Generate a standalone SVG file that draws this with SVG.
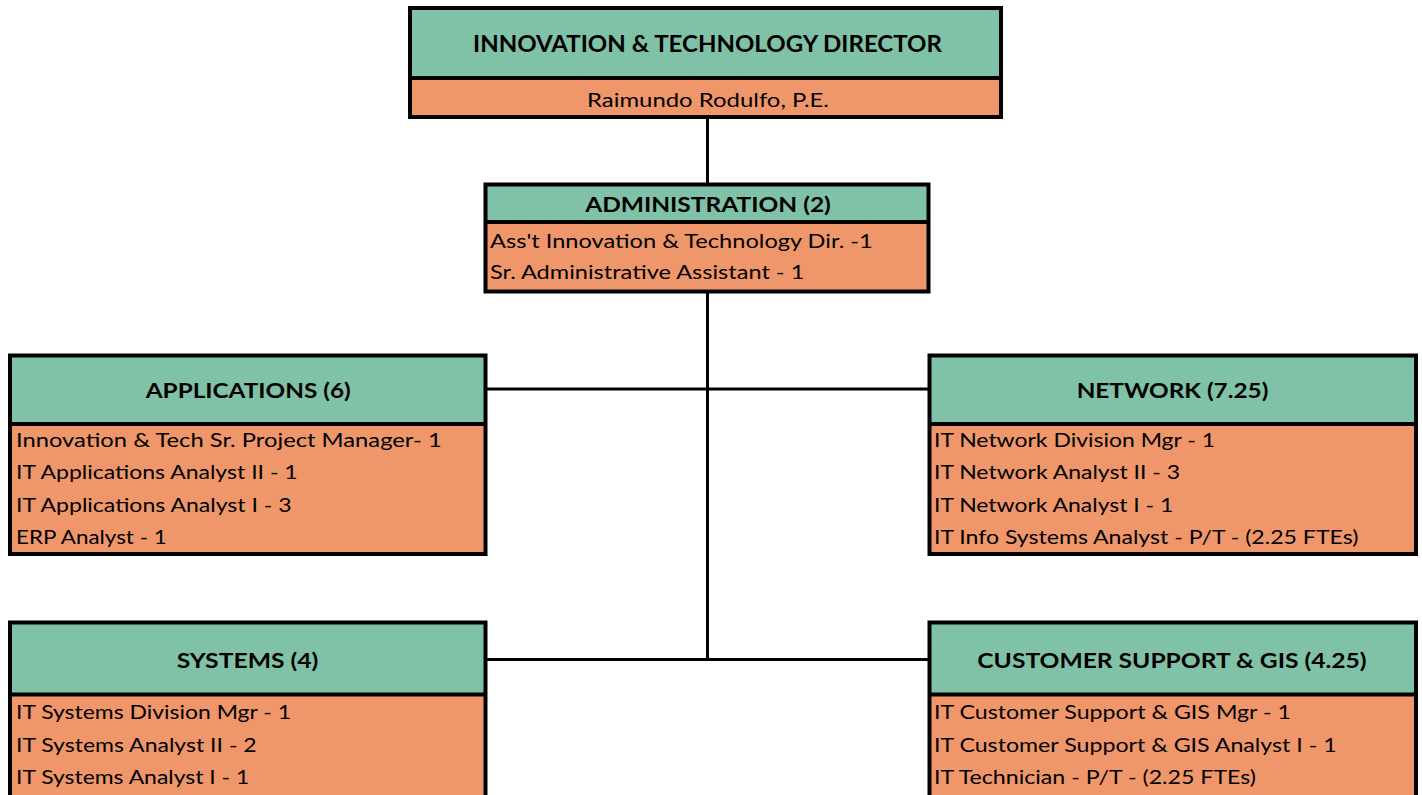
<svg xmlns="http://www.w3.org/2000/svg" width="1422" height="795" viewBox="0 0 1422 795">
<style>
.hd{fill:#80C2A7}
.bd{fill:#EF976A}
.fr{fill:none;stroke:#000;stroke-width:4}
.sep{stroke:#000;stroke-width:4}
.t{font-family:Lato,"Liberation Sans",sans-serif;font-weight:700;font-size:21px;fill:#000;text-anchor:middle}
.tt{font-size:23px}
.l{font-family:Lato,"Liberation Sans",sans-serif;font-size:19.5px;fill:#000}
.c{stroke:#000;stroke-width:3;fill:none}
</style>
<rect width="1422" height="795" fill="#fff"/>
<g id="connectors">
<line class="c" x1="707.5" y1="117" x2="707.5" y2="184.5"/>
<line class="c" x1="707.5" y1="291.5" x2="707.5" y2="659.5"/>
<line class="c" x1="485.5" y1="389" x2="929.5" y2="389"/>
<line class="c" x1="485.5" y1="659.5" x2="929.5" y2="659.5"/>
</g>
<g id="director">
<rect class="hd" x="410" y="8" width="591" height="70"/>
<rect class="bd" x="410" y="78" width="591" height="39"/>
<line class="sep" x1="410" y1="78" x2="1001" y2="78"/>
<rect class="fr" x="410" y="8" width="591" height="109"/>
<text class="t tt" x="707.5" y="51.5" textLength="469" lengthAdjust="spacingAndGlyphs">INNOVATION &amp; TECHNOLOGY DIRECTOR</text>
<text class="l" x="708" y="106.5" text-anchor="middle" textLength="242" lengthAdjust="spacingAndGlyphs">Raimundo Rodulfo, P.E.</text>
</g>
<g id="administration">
<rect class="hd" x="485.5" y="184.5" width="443" height="37.5"/>
<rect class="bd" x="485.5" y="222" width="443" height="69.5"/>
<line class="sep" x1="485.5" y1="222" x2="928.5" y2="222"/>
<rect class="fr" x="485.5" y="184.5" width="443" height="107"/>
<text class="t" x="708" y="211.5" textLength="245.7" lengthAdjust="spacingAndGlyphs">ADMINISTRATION (2)</text>
<text class="l" x="490" y="247.5" textLength="382.7" lengthAdjust="spacingAndGlyphs">Ass't Innovation &amp; Technology Dir. -1</text>
<text class="l" x="490" y="278.5" textLength="314.3" lengthAdjust="spacingAndGlyphs">Sr. Administrative Assistant - 1</text>
</g>
<g id="applications">
<rect class="hd" x="10" y="355.5" width="475.5" height="68.5"/>
<rect class="bd" x="10" y="424" width="475.5" height="130"/>
<line class="sep" x1="10" y1="424" x2="485.5" y2="424"/>
<rect class="fr" x="10" y="355.5" width="475.5" height="198.5"/>
<text class="t" x="248.2" y="398" textLength="205" lengthAdjust="spacingAndGlyphs">APPLICATIONS (6)</text>
<text class="l" x="16" y="446.5" textLength="425.7" lengthAdjust="spacingAndGlyphs">Innovation &amp; Tech Sr. Project Manager- 1</text>
<text class="l" x="16" y="479" textLength="281.7" lengthAdjust="spacingAndGlyphs">IT Applications Analyst II - 1</text>
<text class="l" x="16" y="511.5" textLength="275.7" lengthAdjust="spacingAndGlyphs">IT Applications Analyst I - 3</text>
<text class="l" x="16" y="544" textLength="150.7" lengthAdjust="spacingAndGlyphs">ERP Analyst - 1</text>
</g>
<g id="network">
<rect class="hd" x="929.5" y="355.5" width="486.5" height="68.5"/>
<rect class="bd" x="929.5" y="424" width="486.5" height="130"/>
<line class="sep" x1="929.5" y1="424" x2="1416" y2="424"/>
<rect class="fr" x="929.5" y="355.5" width="486.5" height="198.5"/>
<text class="t" x="1172.5" y="398" textLength="191.7" lengthAdjust="spacingAndGlyphs">NETWORK (7.25)</text>
<text class="l" x="934" y="446.5" textLength="281" lengthAdjust="spacingAndGlyphs">IT Network Division Mgr - 1</text>
<text class="l" x="934" y="479" textLength="246" lengthAdjust="spacingAndGlyphs">IT Network Analyst II - 3</text>
<text class="l" x="934" y="511.5" textLength="239.3" lengthAdjust="spacingAndGlyphs">IT Network Analyst I - 1</text>
<text class="l" x="934" y="544" textLength="424.3" lengthAdjust="spacingAndGlyphs">IT Info Systems Analyst - P/T - (2.25 FTEs)</text>
</g>
<g id="systems">
<rect class="hd" x="10" y="622.5" width="475.5" height="72"/>
<rect class="bd" x="10" y="694.5" width="475.5" height="130"/>
<line class="sep" x1="10" y1="694.5" x2="485.5" y2="694.5"/>
<rect class="fr" x="10" y="622.5" width="475.5" height="202"/>
<text class="t" x="247.5" y="667.5" textLength="141.7" lengthAdjust="spacingAndGlyphs">SYSTEMS (4)</text>
<text class="l" x="16" y="719" textLength="275" lengthAdjust="spacingAndGlyphs">IT Systems Division Mgr - 1</text>
<text class="l" x="16" y="751.5" textLength="240.7" lengthAdjust="spacingAndGlyphs">IT Systems Analyst II - 2</text>
<text class="l" x="16" y="784" textLength="233.3" lengthAdjust="spacingAndGlyphs">IT Systems Analyst I - 1</text>
</g>
<g id="customer-support">
<rect class="hd" x="929.5" y="622.5" width="486.5" height="72"/>
<rect class="bd" x="929.5" y="694.5" width="486.5" height="130"/>
<line class="sep" x1="929.5" y1="694.5" x2="1416" y2="694.5"/>
<rect class="fr" x="929.5" y="622.5" width="486.5" height="202"/>
<text class="t" x="1172" y="667.5" textLength="389.3" lengthAdjust="spacingAndGlyphs">CUSTOMER SUPPORT &amp; GIS (4.25)</text>
<text class="l" x="934" y="719" textLength="357" lengthAdjust="spacingAndGlyphs">IT Customer Support &amp; GIS Mgr - 1</text>
<text class="l" x="934" y="751.5" textLength="402.7" lengthAdjust="spacingAndGlyphs">IT Customer Support &amp; GIS Analyst I - 1</text>
<text class="l" x="934" y="784" textLength="322" lengthAdjust="spacingAndGlyphs">IT Technician - P/T - (2.25 FTEs)</text>
</g>
</svg>
